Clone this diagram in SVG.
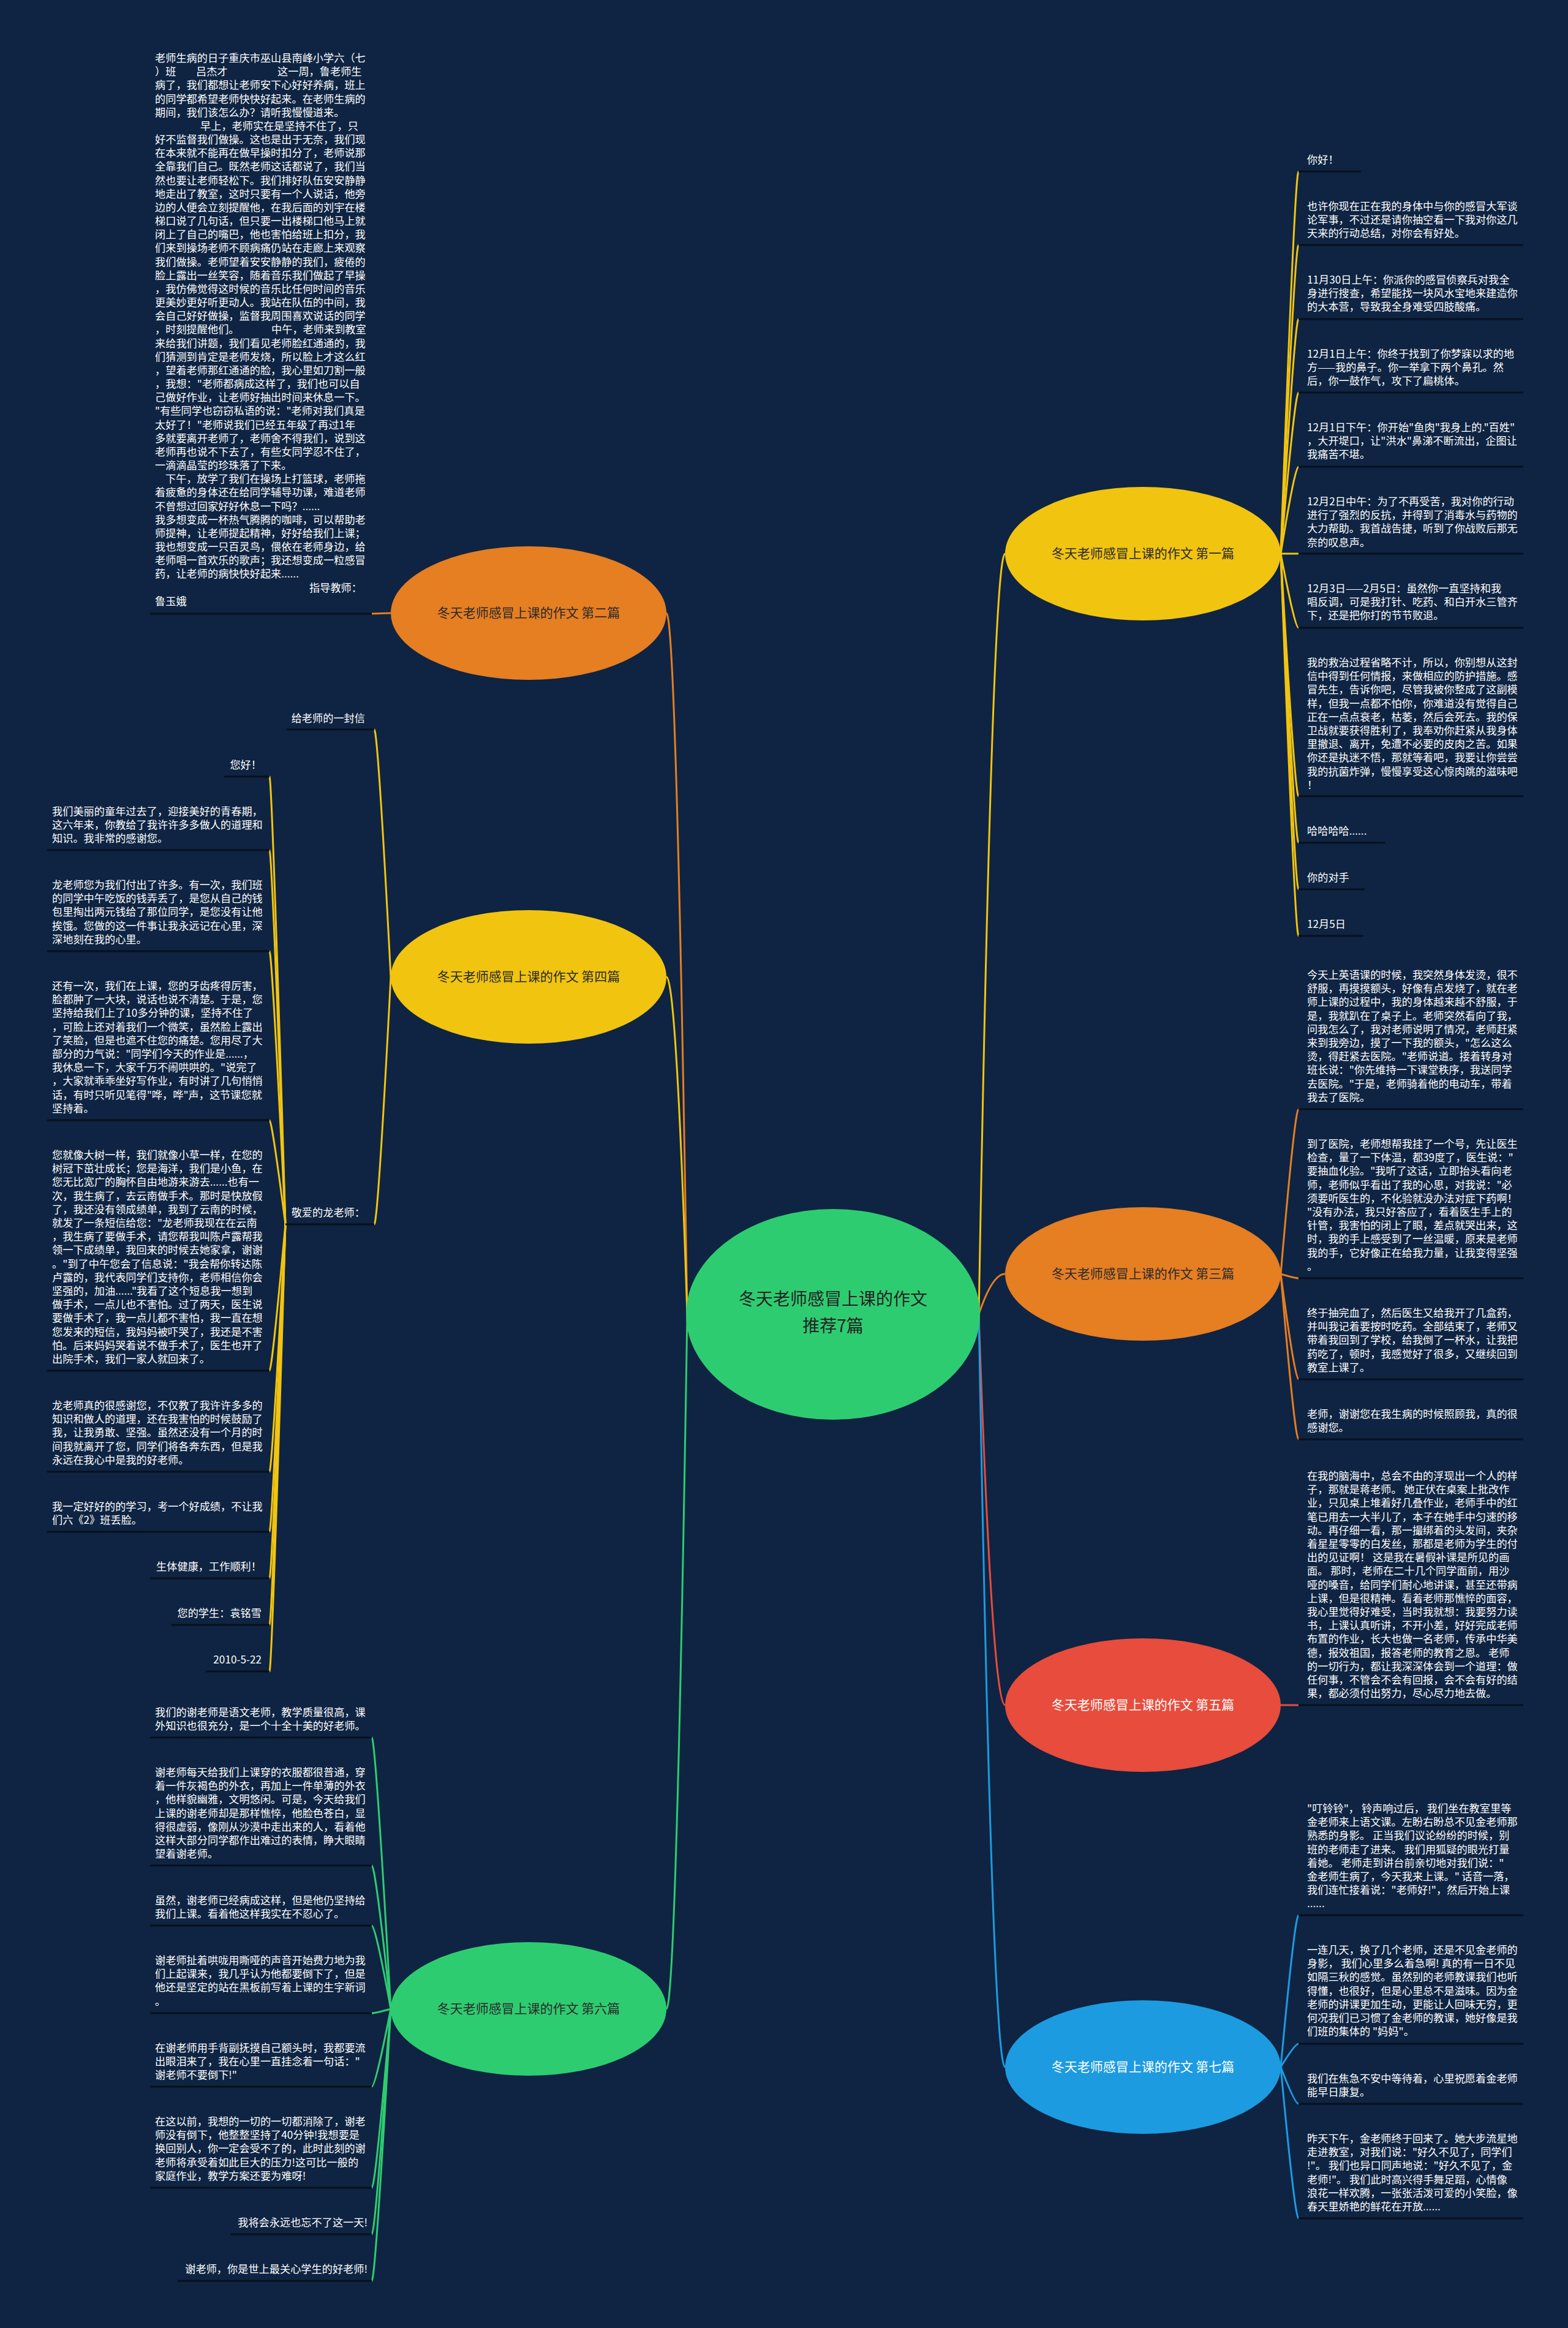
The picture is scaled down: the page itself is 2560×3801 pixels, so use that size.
<svg xmlns="http://www.w3.org/2000/svg" width="2560" height="3801" viewBox="0 0 2560 3801">
<style>
.t{font-family:"Noto Sans CJK SC","Noto Sans",sans-serif;font-size:17.2px;fill:#ffffff}
.e{text-anchor:end}
.ul{stroke:#07101d;stroke-width:3}
.c{fill:none;stroke-width:3}
.lb{font-family:"Noto Sans CJK SC","Noto Sans",sans-serif;font-size:21px;text-anchor:middle;fill:#2b2b2b}
.lw{fill:#ffffff}
.cl{font-family:"Noto Sans CJK SC","Noto Sans",sans-serif;font-size:28px;text-anchor:middle;fill:#222222}
.y{stroke:#f1c40f}.o{stroke:#e67e22}.g{stroke:#2ecc71}.r{stroke:#e74c3c}.b{stroke:#1d9be0}
</style>
<rect width="2560" height="3801" fill="#0e2442"/>
<g id="connectors">
<path class="c o" d="M1122,2146 Q1104,1001 1088,1001"/>
<path class="c y" d="M1122,2146 Q1104,1595 1088,1595"/>
<path class="c g" d="M1122,2146 Q1104,3280 1088,3280"/>
<path class="c y" d="M1598,2146 Q1620,904 1641,904"/>
<path class="c o" d="M1598,2146 Q1620,2080 1641,2080"/>
<path class="c r" d="M1598,2146 Q1620,2784 1641,2784"/>
<path class="c b" d="M1598,2146 Q1620,3375 1641,3375"/>
<path class="c o" d="M638,1001 L607,1002"/>
<path class="c y" d="M638,1595 Q617,1191 611,1191"/>
<path class="c y" d="M638,1595 Q617,1999 611,1999"/>
<path class="c y" d="M466,1999 Q444,1268 440,1268"/>
<path class="c y" d="M466,1999 Q444,1388 440,1388"/>
<path class="c y" d="M466,1999 Q444,1553 440,1553"/>
<path class="c y" d="M466,1999 Q444,1829 440,1829"/>
<path class="c y" d="M466,1999 Q444,2238 440,2238"/>
<path class="c y" d="M466,1999 Q444,2403 440,2403"/>
<path class="c y" d="M466,1999 Q444,2501 440,2501"/>
<path class="c y" d="M466,1999 Q444,2577 440,2577"/>
<path class="c y" d="M466,1999 Q444,2653 440,2653"/>
<path class="c y" d="M466,1999 Q444,2729 440,2729"/>
<path class="c g" d="M638,3280 Q613,2837 607,2837"/>
<path class="c g" d="M638,3280 Q613,3046 607,3046"/>
<path class="c g" d="M638,3280 Q613,3144 607,3144"/>
<path class="c g" d="M638,3280 Q613,3287 607,3287"/>
<path class="c g" d="M638,3280 Q613,3407 607,3407"/>
<path class="c g" d="M638,3280 Q613,3572 607,3572"/>
<path class="c g" d="M638,3280 Q613,3648 607,3648"/>
<path class="c g" d="M638,3280 Q613,3724 607,3724"/>
<path class="c y" d="M2091,904 Q2114,280 2120,280"/>
<path class="c y" d="M2091,904 Q2114,400 2120,400"/>
<path class="c y" d="M2091,904 Q2114,521 2120,521"/>
<path class="c y" d="M2091,904 Q2114,641 2120,641"/>
<path class="c y" d="M2091,904 Q2114,762 2120,762"/>
<path class="c y" d="M2091,904 Q2114,904 2120,904"/>
<path class="c y" d="M2091,904 Q2114,1025 2120,1025"/>
<path class="c y" d="M2091,904 Q2114,1300 2120,1300"/>
<path class="c y" d="M2091,904 Q2114,1376 2120,1376"/>
<path class="c y" d="M2091,904 Q2114,1452 2120,1452"/>
<path class="c y" d="M2091,904 Q2114,1528 2120,1528"/>
<path class="c o" d="M2091,2080 Q2114,1811 2120,1811"/>
<path class="c o" d="M2091,2080 Q2114,2087 2120,2087"/>
<path class="c o" d="M2091,2080 Q2114,2252 2120,2252"/>
<path class="c o" d="M2091,2080 Q2114,2350 2120,2350"/>
<path class="c r" d="M2091,2784 L2120,2784"/>
<path class="c b" d="M2091,3375 Q2114,3127 2120,3127"/>
<path class="c b" d="M2091,3375 Q2114,3337 2120,3337"/>
<path class="c b" d="M2091,3375 Q2114,3435 2120,3435"/>
<path class="c b" d="M2091,3375 Q2114,3622 2120,3622"/>
</g>

<g id="center">
<ellipse cx="1360" cy="2146" rx="240" ry="172" fill="#2ecc71"/>
<text class="cl" x="1360" y="2131">冬天老师感冒上课的作文</text>
<text class="cl" x="1360" y="2175">推荐7篇</text>
</g>

<g id="b2"><ellipse cx="863" cy="1001" rx="225" ry="109" fill="#e67e22"/><text class="lb" x="863" y="1008">冬天老师感冒上课的作文 第二篇</text></g>
<g id="b4"><ellipse cx="863" cy="1595" rx="225" ry="109" fill="#f1c40f"/><text class="lb" x="863" y="1602">冬天老师感冒上课的作文 第四篇</text></g>
<g id="b6"><ellipse cx="863" cy="3280" rx="225" ry="109" fill="#2ecc71"/><text class="lb" x="863" y="3287">冬天老师感冒上课的作文 第六篇</text></g>
<g id="b1"><ellipse cx="1866" cy="904" rx="225" ry="109" fill="#f1c40f"/><text class="lb" x="1866" y="911">冬天老师感冒上课的作文 第一篇</text></g>
<g id="b3"><ellipse cx="1866" cy="2080" rx="225" ry="109" fill="#e67e22"/><text class="lb" x="1866" y="2087">冬天老师感冒上课的作文 第三篇</text></g>
<g id="b5"><ellipse cx="1866" cy="2784" rx="225" ry="109" fill="#e74c3c"/><text class="lb lw" x="1866" y="2791">冬天老师感冒上课的作文 第五篇</text></g>
<g id="b7"><ellipse cx="1866" cy="3375" rx="225" ry="109" fill="#1d9be0"/><text class="lb lw" x="1866" y="3382">冬天老师感冒上课的作文 第七篇</text></g>

<g id="n2-1">
<text class="t" y="101">
<tspan x="253">老师生病的日子重庆市巫山县南峰小学六（七</tspan>
<tspan x="253" dy="22.17">）班</tspan><tspan x="320">吕杰才</tspan><tspan x="453">这一周，鲁老师生</tspan>
<tspan x="253" dy="22.17">病了，我们都想让老师安下心好好养病，班上</tspan>
<tspan x="253" dy="22.17">的同学都希望老师快快好起来。在老师生病的</tspan>
<tspan x="253" dy="22.17">期间，我们该怎么办？请听我慢慢道来。</tspan>
<tspan x="327" dy="22.17">早上，老师实在是坚持不住了，只</tspan>
<tspan x="253" dy="22.17">好不监督我们做操。这也是出于无奈，我们现</tspan>
<tspan x="253" dy="22.17">在本来就不能再在做早操时扣分了，老师说那</tspan>
<tspan x="253" dy="22.17">全靠我们自己。既然老师这话都说了，我们当</tspan>
<tspan x="253" dy="22.17">然也要让老师轻松下。我们排好队伍安安静静</tspan>
<tspan x="253" dy="22.17">地走出了教室，这时只要有一个人说话，他旁</tspan>
<tspan x="253" dy="22.17">边的人便会立刻提醒他，在我后面的刘宇在楼</tspan>
<tspan x="253" dy="22.17">梯口说了几句话，但只要一出楼梯口他马上就</tspan>
<tspan x="253" dy="22.17">闭上了自己的嘴巴，他也害怕给班上扣分，我</tspan>
<tspan x="253" dy="22.17">们来到操场老师不顾病痛仍站在走廊上来观察</tspan>
<tspan x="253" dy="22.17">我们做操。老师望着安安静静的我们，疲倦的</tspan>
<tspan x="253" dy="22.17">脸上露出一丝笑容，随着音乐我们做起了早操</tspan>
<tspan x="253" dy="22.17">，我仿佛觉得这时候的音乐比任何时间的音乐</tspan>
<tspan x="253" dy="22.17">更美妙更好听更动人。我站在队伍的中间，我</tspan>
<tspan x="253" dy="22.17">会自己好好做操，监督我周围喜欢说话的同学</tspan>
<tspan x="253" dy="22.17">，时刻提醒他们。</tspan><tspan x="443">中午，老师来到教室</tspan>
<tspan x="253" dy="22.17">来给我们讲题，我们看见老师脸红通通的，我</tspan>
<tspan x="253" dy="22.17">们猜测到肯定是老师发烧，所以脸上才这么红</tspan>
<tspan x="253" dy="22.17">，望着老师那红通通的脸，我心里如刀割一般</tspan>
<tspan x="253" dy="22.17">，我想："老师都病成这样了，我们也可以自</tspan>
<tspan x="253" dy="22.17">己做好作业，让老师好抽出时间来休息一下。</tspan>
<tspan x="253" dy="22.17">"有些同学也窃窃私语的说："老师对我们真是</tspan>
<tspan x="253" dy="22.17">太好了！"老师说我们已经五年级了再过1年</tspan>
<tspan x="253" dy="22.17">多就要离开老师了，老师舍不得我们，说到这</tspan>
<tspan x="253" dy="22.17">老师再也说不下去了，有些女同学忍不住了，</tspan>
<tspan x="253" dy="22.17">一滴滴晶莹的珍珠落了下来。</tspan>
<tspan x="270" dy="22.17">下午，放学了我们在操场上打篮球，老师拖</tspan>
<tspan x="253" dy="22.17">着疲惫的身体还在给同学辅导功课，难道老师</tspan>
<tspan x="253" dy="22.17">不曾想过回家好好休息一下吗？......</tspan>
<tspan x="253" dy="22.17">我多想变成一杯热气腾腾的咖啡，可以帮助老</tspan>
<tspan x="253" dy="22.17">师提神，让老师提起精神，好好给我们上课；</tspan>
<tspan x="253" dy="22.17">我也想变成一只百灵鸟，偎依在老师身边，给</tspan>
<tspan x="253" dy="22.17">老师唱一首欢乐的歌声；我还想变成一粒感冒</tspan>
<tspan x="253" dy="22.17">药，让老师的病快快好起来......</tspan>
<tspan x="505" dy="22.17">指导教师：</tspan>
<tspan x="253" dy="22.17">鲁玉娥</tspan>
</text>
<line class="ul" x1="245" y1="1002" x2="607" y2="1002"/>
</g>

<g id="n4-a"><text class="t e" x="596" y="1179">给老师的一封信</text><line class="ul" x1="468" y1="1191" x2="611" y2="1191"/></g>
<g id="n4-b"><text class="t e" x="596" y="1986">敬爱的龙老师：</text><line class="ul" x1="466" y1="1999" x2="611" y2="1999"/></g>
<g id="n4-b1"><text class="t e" x="427" y="1255">您好！</text><line class="ul" x1="366" y1="1268" x2="440" y2="1268"/></g>
<g id="n4-b2"><text class="t" y="1331">
<tspan x="85">我们美丽的童年过去了，迎接美好的青春期，</tspan>
<tspan x="85" dy="22.2">这六年来，你教给了我许许多多做人的道理和</tspan>
<tspan x="85" dy="22.2">知识。我非常的感谢您。</tspan>
</text><line class="ul" x1="77" y1="1388" x2="440" y2="1388"/></g>
<g id="n4-b3"><text class="t" y="1451">
<tspan x="85">龙老师您为我们付出了许多。有一次，我们班</tspan>
<tspan x="85" dy="22.2">的同学中午吃饭的钱弄丢了，是您从自己的钱</tspan>
<tspan x="85" dy="22.2">包里掏出两元钱给了那位同学，是您没有让他</tspan>
<tspan x="85" dy="22.2">挨饿。您做的这一件事让我永远记在心里，深</tspan>
<tspan x="85" dy="22.2">深地刻在我的心里。</tspan>
</text><line class="ul" x1="77" y1="1553" x2="440" y2="1553"/></g>
<g id="n4-b4"><text class="t" y="1616">
<tspan x="85">还有一次，我们在上课，您的牙齿疼得厉害，</tspan>
<tspan x="85" dy="22.2">脸都肿了一大块，说话也说不清楚。于是，您</tspan>
<tspan x="85" dy="22.2">坚持给我们上了10多分钟的课，坚持不住了</tspan>
<tspan x="85" dy="22.2">，可脸上还对着我们一个微笑，虽然脸上露出</tspan>
<tspan x="85" dy="22.2">了笑脸，但是也遮不住您的痛楚。您用尽了大</tspan>
<tspan x="85" dy="22.2">部分的力气说："同学们今天的作业是......，</tspan>
<tspan x="85" dy="22.2">我休息一下，大家千万不闹哄哄的。"说完了</tspan>
<tspan x="85" dy="22.2">，大家就乖乖坐好写作业，有时讲了几句悄悄</tspan>
<tspan x="85" dy="22.2">话，有时只听见笔得"哗，哗"声，这节课您就</tspan>
<tspan x="85" dy="22.2">坚持着。</tspan>
</text><line class="ul" x1="77" y1="1829" x2="440" y2="1829"/></g>
<g id="n4-b5"><text class="t" y="1892">
<tspan x="85">您就像大树一样，我们就像小草一样，在您的</tspan>
<tspan x="85" dy="22.2">树冠下茁壮成长；您是海洋，我们是小鱼，在</tspan>
<tspan x="85" dy="22.2">您无比宽广的胸怀自由地游来游去......也有一</tspan>
<tspan x="85" dy="22.2">次，我生病了，去云南做手术。那时是快放假</tspan>
<tspan x="85" dy="22.2">了，我还没有领成绩单，我到了云南的时候，</tspan>
<tspan x="85" dy="22.2">就发了一条短信给您："龙老师我现在在云南</tspan>
<tspan x="85" dy="22.2">，我生病了要做手术，请您帮我叫陈卢露帮我</tspan>
<tspan x="85" dy="22.2">领一下成绩单，我回来的时候去她家拿，谢谢</tspan>
<tspan x="85" dy="22.2">。"到了中午您会了信息说："我会帮你转达陈</tspan>
<tspan x="85" dy="22.2">卢露的，我代表同学们支持你，老师相信你会</tspan>
<tspan x="85" dy="22.2">坚强的，加油......"我看了这个短息我一想到</tspan>
<tspan x="85" dy="22.2">做手术，一点儿也不害怕。过了两天，医生说</tspan>
<tspan x="85" dy="22.2">要做手术了，我一点儿都不害怕，我一直在想</tspan>
<tspan x="85" dy="22.2">您发来的短信，我妈妈被吓哭了，我还是不害</tspan>
<tspan x="85" dy="22.2">怕。后来妈妈哭着说不做手术了，医生也开了</tspan>
<tspan x="85" dy="22.2">出院手术，我们一家人就回来了。</tspan>
</text><line class="ul" x1="77" y1="2238" x2="440" y2="2238"/></g>
<g id="n4-b6"><text class="t" y="2301">
<tspan x="85">龙老师真的很感谢您，不仅教了我许许多多的</tspan>
<tspan x="85" dy="22.2">知识和做人的道理，还在我害怕的时候鼓励了</tspan>
<tspan x="85" dy="22.2">我，让我勇敢、坚强。虽然还没有一个月的时</tspan>
<tspan x="85" dy="22.2">间我就离开了您，同学们将各奔东西，但是我</tspan>
<tspan x="85" dy="22.2">永远在我心中是我的好老师。</tspan>
</text><line class="ul" x1="77" y1="2403" x2="440" y2="2403"/></g>
<g id="n4-b7"><text class="t" y="2466">
<tspan x="85">我一定好好的的学习，考一个好成绩，不让我</tspan>
<tspan x="85" dy="22.2">们六《2》班丢脸。</tspan>
</text><line class="ul" x1="77" y1="2501" x2="440" y2="2501"/></g>
<g id="n4-b8"><text class="t e" x="427" y="2564">生体健康，工作顺利！</text><line class="ul" x1="245" y1="2577" x2="440" y2="2577"/></g>
<g id="n4-b9"><text class="t e" x="427" y="2640">您的学生：袁铭雪</text><line class="ul" x1="280" y1="2653" x2="440" y2="2653"/></g>
<g id="n4-b10"><text class="t e" x="427" y="2716">2010-5-22</text><line class="ul" x1="336" y1="2729" x2="440" y2="2729"/></g>

<g id="n6-1"><text class="t" y="2802">
<tspan x="253">我们的谢老师是语文老师，教学质量很高，课</tspan>
<tspan x="253" dy="22.2">外知识也很充分，是一个十全十美的好老师。</tspan>
</text><line class="ul" x1="245" y1="2837" x2="607" y2="2837"/></g>
<g id="n6-2"><text class="t" y="2900">
<tspan x="253">谢老师每天给我们上课穿的衣服都很普通，穿</tspan>
<tspan x="253" dy="22.2">着一件灰褐色的外衣，再加上一件单薄的外衣</tspan>
<tspan x="253" dy="22.2">，他样貌幽雅，文明悠闲。可是，今天给我们</tspan>
<tspan x="253" dy="22.2">上课的谢老师却是那样憔悴，他脸色苍白，显</tspan>
<tspan x="253" dy="22.2">得很虚弱，像刚从沙漠中走出来的人，看着他</tspan>
<tspan x="253" dy="22.2">这样大部分同学都作出难过的表情，睁大眼睛</tspan>
<tspan x="253" dy="22.2">望着谢老师。</tspan>
</text><line class="ul" x1="245" y1="3046" x2="607" y2="3046"/></g>
<g id="n6-3"><text class="t" y="3109">
<tspan x="253">虽然，谢老师已经病成这样，但是他仍坚持给</tspan>
<tspan x="253" dy="22.2">我们上课。看着他这样我实在不忍心了。</tspan>
</text><line class="ul" x1="245" y1="3144" x2="607" y2="3144"/></g>
<g id="n6-4"><text class="t" y="3207">
<tspan x="253">谢老师扯着哄咙用嘶哑的声音开始费力地为我</tspan>
<tspan x="253" dy="22.2">们上起课来，我几乎认为他都要倒下了，但是</tspan>
<tspan x="253" dy="22.2">他还是坚定的站在黑板前写着上课的生字新词</tspan>
<tspan x="253" dy="22.2">。</tspan>
</text><line class="ul" x1="245" y1="3287" x2="607" y2="3287"/></g>
<g id="n6-5"><text class="t" y="3350">
<tspan x="253">在谢老师用手背副抚摸自己额头时，我都要流</tspan>
<tspan x="253" dy="22.2">出眼泪来了，我在心里一直挂念着一句话："</tspan>
<tspan x="253" dy="22.2">谢老师不要倒下!"</tspan>
</text><line class="ul" x1="245" y1="3407" x2="607" y2="3407"/></g>
<g id="n6-6"><text class="t" y="3470">
<tspan x="253">在这以前，我想的一切的一切都消除了，谢老</tspan>
<tspan x="253" dy="22.2">师没有倒下，他整整坚持了40分钟!我想要是</tspan>
<tspan x="253" dy="22.2">换回别人，你一定会受不了的，此时此刻的谢</tspan>
<tspan x="253" dy="22.2">老师将承受着如此巨大的压力!这可比一般的</tspan>
<tspan x="253" dy="22.2">家庭作业，教学方案还要为难呀!</tspan>
</text><line class="ul" x1="245" y1="3572" x2="607" y2="3572"/></g>
<g id="n6-7"><text class="t e" x="600" y="3635">我将会永远也忘不了这一天!</text><line class="ul" x1="377" y1="3648" x2="607" y2="3648"/></g>
<g id="n6-8"><text class="t e" x="600" y="3711">谢老师，你是世上最关心学生的好老师!</text><line class="ul" x1="290" y1="3724" x2="607" y2="3724"/></g>

<g id="n1-1"><text class="t" x="2134" y="267">你好！</text><line class="ul" x1="2120" y1="280" x2="2222" y2="280"/></g>
<g id="n1-2"><text class="t" y="343">
<tspan x="2134">也许你现在正在我的身体中与你的感冒大军谈</tspan>
<tspan x="2134" dy="22.2">论军事，不过还是请你抽空看一下我对你这几</tspan>
<tspan x="2134" dy="22.2">天来的行动总结，对你会有好处。</tspan>
</text><line class="ul" x1="2120" y1="400" x2="2487" y2="400"/></g>
<g id="n1-3"><text class="t" y="463">
<tspan x="2134">11月30日上午：你派你的感冒侦察兵对我全</tspan>
<tspan x="2134" dy="22.2">身进行搜查，希望能找一块风水宝地来建造你</tspan>
<tspan x="2134" dy="22.2">的大本营，导致我全身难受四肢酸痛。</tspan>
</text><line class="ul" x1="2120" y1="521" x2="2487" y2="521"/></g>
<g id="n1-4"><text class="t" y="584">
<tspan x="2134">12月1日上午：你终于找到了你梦寐以求的地</tspan>
<tspan x="2134" dy="22.2">方——我的鼻子。你一举拿下两个鼻孔。然</tspan>
<tspan x="2134" dy="22.2">后，你一鼓作气，攻下了扁桃体。</tspan>
</text><line class="ul" x1="2120" y1="641" x2="2487" y2="641"/></g>
<g id="n1-5"><text class="t" y="704">
<tspan x="2134">12月1日下午：你开始"鱼肉"我身上的."百姓"</tspan>
<tspan x="2134" dy="22.2">，大开堤口，让"洪水"鼻涕不断流出，企图让</tspan>
<tspan x="2134" dy="22.2">我痛苦不堪。</tspan>
</text><line class="ul" x1="2120" y1="762" x2="2487" y2="762"/></g>
<g id="n1-6"><text class="t" y="825">
<tspan x="2134">12月2日中午：为了不再受苦，我对你的行动</tspan>
<tspan x="2134" dy="22.2">进行了强烈的反抗，并得到了消毒水与药物的</tspan>
<tspan x="2134" dy="22.2">大力帮助。我首战告捷，听到了你战败后那无</tspan>
<tspan x="2134" dy="22.2">奈的叹息声。</tspan>
</text><line class="ul" x1="2120" y1="904" x2="2487" y2="904"/></g>
<g id="n1-7"><text class="t" y="967">
<tspan x="2134">12月3日——2月5日：虽然你一直坚持和我</tspan>
<tspan x="2134" dy="22.2">唱反调，可是我打针、吃药、和白开水三管齐</tspan>
<tspan x="2134" dy="22.2">下，还是把你打的节节败退。</tspan>
</text><line class="ul" x1="2120" y1="1025" x2="2487" y2="1025"/></g>
<g id="n1-8"><text class="t" y="1088">
<tspan x="2134">我的救治过程省略不计，所以，你别想从这封</tspan>
<tspan x="2134" dy="22.2">信中得到任何情报，来做相应的防护措施。感</tspan>
<tspan x="2134" dy="22.2">冒先生，告诉你吧，尽管我被你整成了这副模</tspan>
<tspan x="2134" dy="22.2">样，但我一点都不怕你，你难道没有觉得自己</tspan>
<tspan x="2134" dy="22.2">正在一点点衰老，枯萎，然后会死去。我的保</tspan>
<tspan x="2134" dy="22.2">卫战就要获得胜利了，我奉劝你赶紧从我身体</tspan>
<tspan x="2134" dy="22.2">里撤退、离开，免遭不必要的皮肉之苦。如果</tspan>
<tspan x="2134" dy="22.2">你还是执迷不悟，那就等着吧，我要让你尝尝</tspan>
<tspan x="2134" dy="22.2">我的抗菌炸弹，慢慢享受这心惊肉跳的滋味吧</tspan>
<tspan x="2134" dy="22.2">！</tspan>
</text><line class="ul" x1="2120" y1="1300" x2="2487" y2="1300"/></g>
<g id="n1-9"><text class="t" x="2134" y="1363">哈哈哈哈......</text><line class="ul" x1="2120" y1="1376" x2="2262" y2="1376"/></g>
<g id="n1-10"><text class="t" x="2134" y="1439">你的对手</text><line class="ul" x1="2120" y1="1452" x2="2228" y2="1452"/></g>
<g id="n1-11"><text class="t" x="2134" y="1515">12月5日</text><line class="ul" x1="2120" y1="1528" x2="2226" y2="1528"/></g>

<g id="n3-1"><text class="t" y="1598">
<tspan x="2134">今天上英语课的时候，我突然身体发烫，很不</tspan>
<tspan x="2134" dy="22.2">舒服，再摸摸额头，好像有点发烧了，就在老</tspan>
<tspan x="2134" dy="22.2">师上课的过程中，我的身体越来越不舒服，于</tspan>
<tspan x="2134" dy="22.2">是，我就趴在了桌子上。老师突然看向了我，</tspan>
<tspan x="2134" dy="22.2">问我怎么了，我对老师说明了情况，老师赶紧</tspan>
<tspan x="2134" dy="22.2">来到我旁边，摸了一下我的额头，"怎么这么</tspan>
<tspan x="2134" dy="22.2">烫，得赶紧去医院。"老师说道。接着转身对</tspan>
<tspan x="2134" dy="22.2">班长说："你先维持一下课堂秩序，我送同学</tspan>
<tspan x="2134" dy="22.2">去医院。"于是，老师骑着他的电动车，带着</tspan>
<tspan x="2134" dy="22.2">我去了医院。</tspan>
</text><line class="ul" x1="2120" y1="1811" x2="2487" y2="1811"/></g>
<g id="n3-2"><text class="t" y="1874">
<tspan x="2134">到了医院，老师想帮我挂了一个号，先让医生</tspan>
<tspan x="2134" dy="22.2">检查，量了一下体温，都39度了，医生说："</tspan>
<tspan x="2134" dy="22.2">要抽血化验。"我听了这话，立即抬头看向老</tspan>
<tspan x="2134" dy="22.2">师，老师似乎看出了我的心思，对我说："必</tspan>
<tspan x="2134" dy="22.2">须要听医生的，不化验就没办法对症下药啊！</tspan>
<tspan x="2134" dy="22.2">"没有办法，我只好答应了，看着医生手上的</tspan>
<tspan x="2134" dy="22.2">针管，我害怕的闭上了眼，差点就哭出来，这</tspan>
<tspan x="2134" dy="22.2">时，我的手上感受到了一丝温暖，原来是老师</tspan>
<tspan x="2134" dy="22.2">我的手，它好像正在给我力量，让我变得坚强</tspan>
<tspan x="2134" dy="22.2">。</tspan>
</text><line class="ul" x1="2120" y1="2087" x2="2487" y2="2087"/></g>
<g id="n3-3"><text class="t" y="2150">
<tspan x="2134">终于抽完血了，然后医生又给我开了几盒药，</tspan>
<tspan x="2134" dy="22.2">并叫我记着要按时吃药。全部结束了，老师又</tspan>
<tspan x="2134" dy="22.2">带着我回到了学校，给我倒了一杯水，让我把</tspan>
<tspan x="2134" dy="22.2">药吃了，顿时，我感觉好了很多，又继续回到</tspan>
<tspan x="2134" dy="22.2">教室上课了。</tspan>
</text><line class="ul" x1="2120" y1="2252" x2="2487" y2="2252"/></g>
<g id="n3-4"><text class="t" y="2315">
<tspan x="2134">老师，谢谢您在我生病的时候照顾我，真的很</tspan>
<tspan x="2134" dy="22.2">感谢您。</tspan>
</text><line class="ul" x1="2120" y1="2350" x2="2487" y2="2350"/></g>

<g id="n5-1"><text class="t" y="2416">
<tspan x="2134">在我的脑海中，总会不由的浮现出一个人的样</tspan>
<tspan x="2134" dy="22.2">子，那就是蒋老师。 她正伏在桌案上批改作</tspan>
<tspan x="2134" dy="22.2">业，只见桌上堆着好几叠作业，老师手中的红</tspan>
<tspan x="2134" dy="22.2">笔已用去一大半儿了，本子在她手中匀速的移</tspan>
<tspan x="2134" dy="22.2">动。再仔细一看，那一撮绑着的头发间，夹杂</tspan>
<tspan x="2134" dy="22.2">着星星零零的白发丝，那都是老师为学生的付</tspan>
<tspan x="2134" dy="22.2">出的见证啊！ 这是我在暑假补课是所见的画</tspan>
<tspan x="2134" dy="22.2">面。 那时，老师在二十几个同学面前，用沙</tspan>
<tspan x="2134" dy="22.2">哑的嗓音，给同学们耐心地讲课，甚至还带病</tspan>
<tspan x="2134" dy="22.2">上课，但是很精神。看着老师那憔悴的面容，</tspan>
<tspan x="2134" dy="22.2">我心里觉得好难受，当时我就想：我要努力读</tspan>
<tspan x="2134" dy="22.2">书，上课认真听讲，不开小差，好好完成老师</tspan>
<tspan x="2134" dy="22.2">布置的作业，长大也做一名老师，传承中华美</tspan>
<tspan x="2134" dy="22.2">德，报效祖国，报答老师的教育之恩。 老师</tspan>
<tspan x="2134" dy="22.2">的一切行为，都让我深深体会到一个道理：做</tspan>
<tspan x="2134" dy="22.2">任何事，不管会不会有回报，会不会有好的结</tspan>
<tspan x="2134" dy="22.2">果，都必须付出努力，尽心尽力地去做。</tspan>
</text><line class="ul" x1="2120" y1="2784" x2="2487" y2="2784"/></g>

<g id="n7-1"><text class="t" y="2959">
<tspan x="2134">"叮铃铃"， 铃声响过后， 我们坐在教室里等</tspan>
<tspan x="2134" dy="22.2">金老师来上语文课。左盼右盼总不见金老师那</tspan>
<tspan x="2134" dy="22.2">熟悉的身影。 正当我们议论纷纷的时候，别</tspan>
<tspan x="2134" dy="22.2">班的老师走了进来。 我们用狐疑的眼光打量</tspan>
<tspan x="2134" dy="22.2">着她。 老师走到讲台前亲切地对我们说："</tspan>
<tspan x="2134" dy="22.2">金老师生病了，今天我来上课。" 话音一落，</tspan>
<tspan x="2134" dy="22.2">我们连忙接着说："老师好!"，然后开始上课</tspan>
<tspan x="2134" dy="22.2">......</tspan>
</text><line class="ul" x1="2120" y1="3127" x2="2487" y2="3127"/></g>
<g id="n7-2"><text class="t" y="3190">
<tspan x="2134">一连几天，换了几个老师，还是不见金老师的</tspan>
<tspan x="2134" dy="22.2">身影， 我们心里多么着急啊! 真的有一日不见</tspan>
<tspan x="2134" dy="22.2">如隔三秋的感觉。虽然别的老师教课我们也听</tspan>
<tspan x="2134" dy="22.2">得懂，也很好，但是心里总不是滋味。因为金</tspan>
<tspan x="2134" dy="22.2">老师的讲课更加生动，更能让人回味无穷，更</tspan>
<tspan x="2134" dy="22.2">何况我们已习惯了金老师的教课，她好像是我</tspan>
<tspan x="2134" dy="22.2">们班的集体的 "妈妈"。</tspan>
</text><line class="ul" x1="2120" y1="3337" x2="2487" y2="3337"/></g>
<g id="n7-3"><text class="t" y="3400">
<tspan x="2134">我们在焦急不安中等待着，心里祝愿着金老师</tspan>
<tspan x="2134" dy="22.2">能早日康复。</tspan>
</text><line class="ul" x1="2120" y1="3435" x2="2487" y2="3435"/></g>
<g id="n7-4"><text class="t" y="3498">
<tspan x="2134">昨天下午，金老师终于回来了。她大步流星地</tspan>
<tspan x="2134" dy="22.2">走进教室，对我们说："好久不见了，同学们</tspan>
<tspan x="2134" dy="22.2">!"。 我们也异口同声地说："好久不见了，金</tspan>
<tspan x="2134" dy="22.2">老师!"。 我们此时高兴得手舞足蹈，心情像</tspan>
<tspan x="2134" dy="22.2">浪花一样欢腾，一张张活泼可爱的小笑脸，像</tspan>
<tspan x="2134" dy="22.2">春天里娇艳的鲜花在开放......</tspan>
</text><line class="ul" x1="2120" y1="3622" x2="2487" y2="3622"/></g>
</svg>
